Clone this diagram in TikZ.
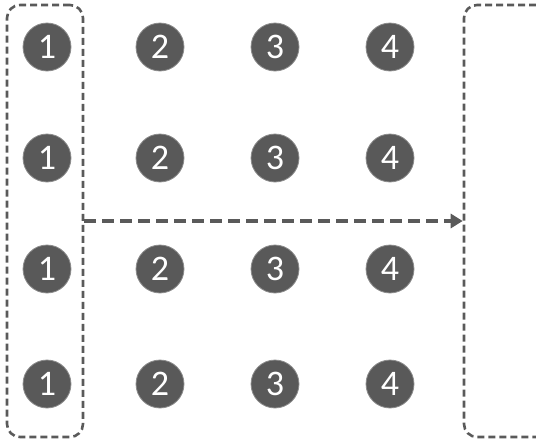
\documentclass[tikz,border=0pt]{standalone}
\usepackage{fontspec}
\setmainfont{Carlito}
\usepackage{xcolor}
\usetikzlibrary{arrows.meta}
\definecolor{dot}{HTML}{595959}
\definecolor{rim}{HTML}{8C8C8C}
\definecolor{ln}{HTML}{5A5A5A}
\tikzset{
  num/.style={circle,fill=dot,draw=rim,line width=0.8pt,minimum size=48pt,inner sep=0pt,text=white,font=\fontsize{36}{40}\selectfont},
  grp/.style={draw=ln,dash pattern=on 7pt off 4pt,line width=2.6pt,rounded corners=13pt,inner sep=0pt},
  mv/.style={draw=ln,dash pattern=on 12pt off 6pt,line width=4pt,-{Triangle[length=12pt,width=14pt]}}
}
\begin{document}
\begin{tikzpicture}[x=1pt,y=-1pt]
\clip (0,0) rectangle (536,440);
\node[grp,minimum width=76pt,minimum height=432pt] (lbox) at (45,221) {};
\node[grp,minimum width=140pt,minimum height=432pt] (rbox) at (534,221) {};
\node[num] (a1) at (47,47) {1}; \node[num] (a2) at (160,47) {2}; \node[num] (a3) at (275,47) {3}; \node[num] (a4) at (390,47) {4};
\node[num] (b1) at (47,158) {1}; \node[num] (b2) at (160,158) {2}; \node[num] (b3) at (275,158) {3}; \node[num] (b4) at (390,158) {4};
\node[num] (c1) at (47,269) {1}; \node[num] (c2) at (160,269) {2}; \node[num] (c3) at (275,269) {3}; \node[num] (c4) at (390,269) {4};
\node[num] (d1) at (47,384) {1}; \node[num] (d2) at (160,384) {2}; \node[num] (d3) at (275,384) {3}; \node[num] (d4) at (390,384) {4};
\draw[mv] (lbox.east) -- (rbox.west);
\end{tikzpicture}
\end{document}
